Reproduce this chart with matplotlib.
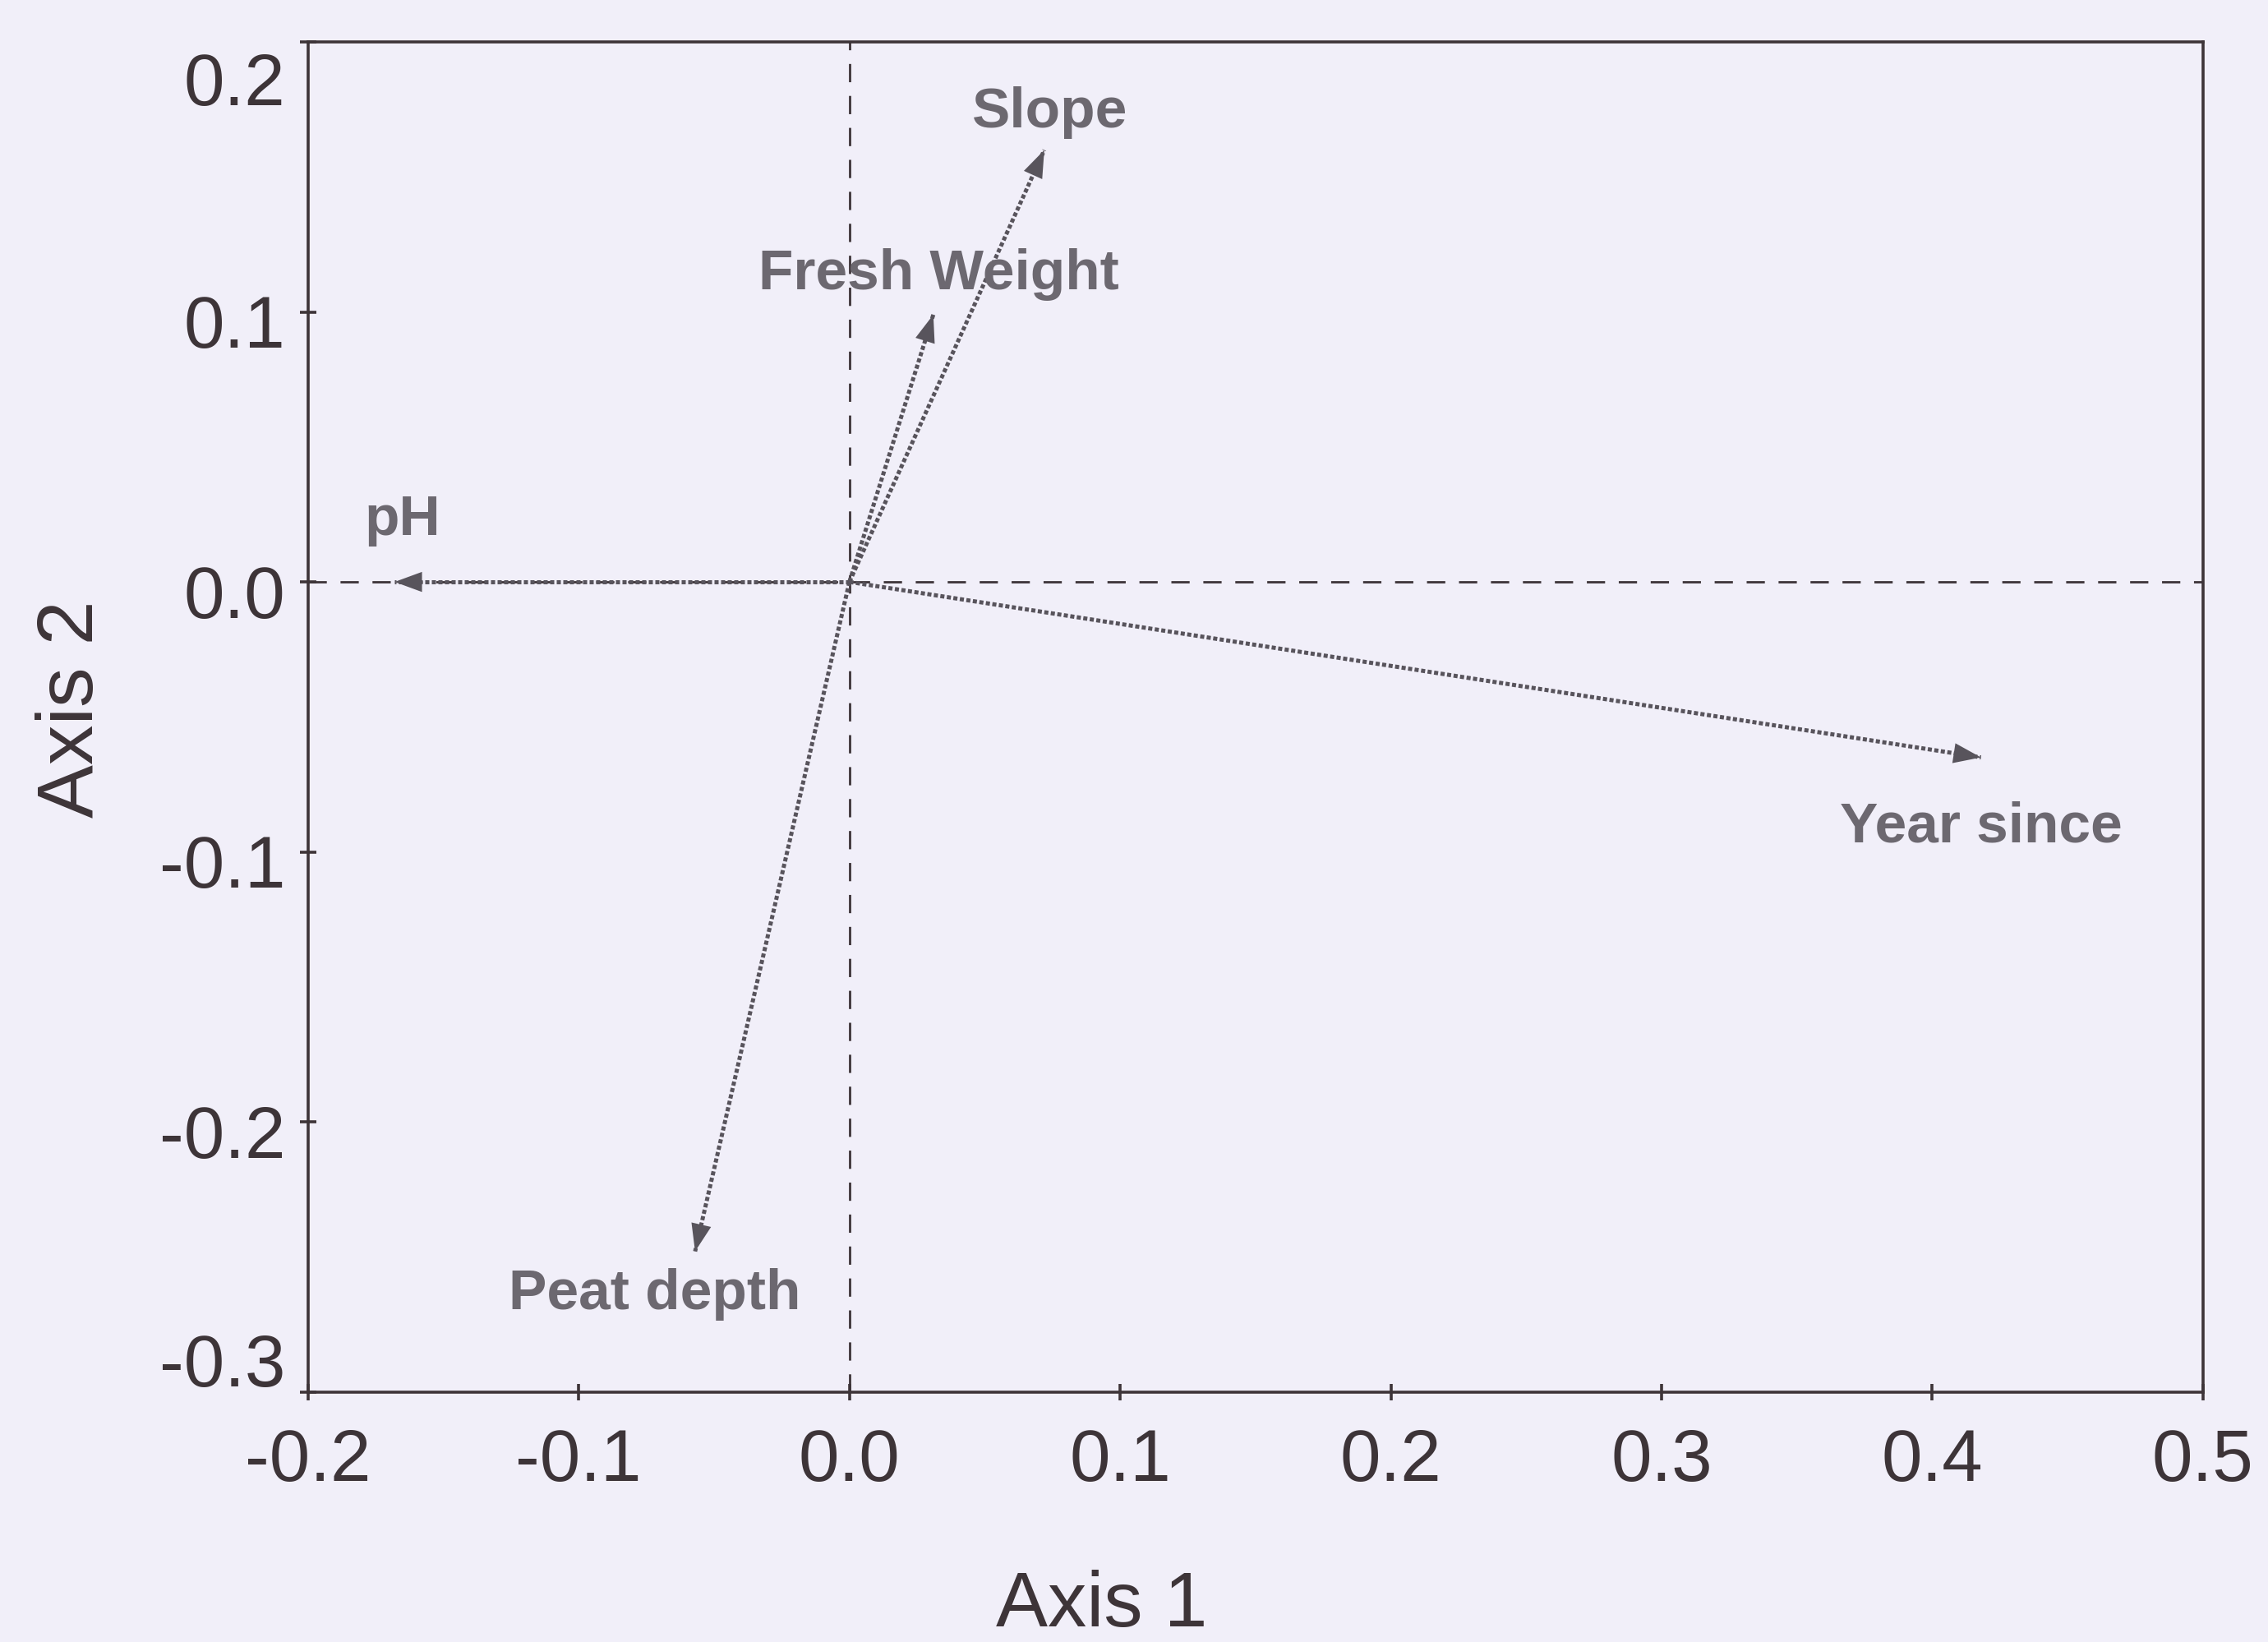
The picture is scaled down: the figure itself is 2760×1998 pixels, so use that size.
import matplotlib
matplotlib.use('Agg')
import matplotlib.pyplot as plt
from matplotlib.ticker import FormatStrFormatter
from matplotlib.transforms import ScaledTranslation

# environmental vectors (biplot scores on axes 1 and 2)
variables = ['Slope', 'Fresh Weight', 'pH', 'Year since', 'Peat depth']
axis1 = [0.072, 0.031, -0.168, 0.418, -0.057]
axis2 = [0.160, 0.099, 0.0, -0.065, -0.248]

# where each vector's name is written
label_x = [0.074, 0.033, -0.165, 0.418, -0.072]
label_y = [0.174, 0.114, 0.023, -0.091, -0.264]

xticks = [-0.2, -0.1, 0.0, 0.1, 0.2, 0.3, 0.4, 0.5]
yticks = [-0.3, -0.2, -0.1, 0.0, 0.1, 0.2]

plt.rcParams['font.family'] = ['Liberation Sans', 'DejaVu Sans']
plt.rcParams['axes.unicode_minus'] = False

bg = '#f1eff9'
dark = '#3d3438'
arrow_col = '#58545c'
text_col = '#6c6870'

fig = plt.figure(figsize=(13.8, 9.99), dpi=200, facecolor=bg)
ax = fig.add_axes([0.1358, 0.1524, 0.8355, 0.822])
ax.set_facecolor(bg)

ax.axhline(0, color=dark, lw=1.0, linestyle=(0, (8, 6)), zorder=1)
ax.axvline(0, color=dark, lw=1.0, linestyle=(0, (8, 6)), zorder=1)

for name, x, y, lx, ly in zip(variables, axis1, axis2, label_x, label_y):
    ax.plot([0, x], [0, y], color=arrow_col, lw=1.8, linestyle=(0, (1, 0.6)), zorder=2)
    ax.annotate('', xy=(x, y), xytext=(0, 0),
                arrowprops=dict(arrowstyle='-|>,head_length=0.6,head_width=0.22',
                                mutation_scale=20, lw=0, color=arrow_col,
                                shrinkA=0, shrinkB=0),
                zorder=3)
    ax.text(lx, ly, name, ha='center', va='center', fontsize=25,
            fontweight='bold', color=text_col, zorder=4)

ax.set_xlim(-0.2, 0.5)
ax.set_ylim(-0.3, 0.2)
ax.set_xticks(xticks)
ax.set_yticks(yticks)
ax.xaxis.set_major_formatter(FormatStrFormatter('%.1f'))
ax.yaxis.set_major_formatter(FormatStrFormatter('%.1f'))
ax.tick_params(direction='inout', length=7, width=1.3, colors=dark, labelsize=32)
ax.tick_params(axis='x', pad=12)
ax.tick_params(axis='y', pad=6.5)

# y labels sit a little low; the end ones are pulled inside the frame
for tick, val in zip(ax.yaxis.get_major_ticks(), yticks):
    dy = -4
    if val == yticks[-1]:
        dy = -16
    elif val == yticks[0]:
        dy = 14
    lbl = tick.label1
    lbl.set_transform(lbl.get_transform() + ScaledTranslation(0, dy / 72, fig.dpi_scale_trans))

for s in ax.spines.values():
    s.set_color(dark)
    s.set_linewidth(1.3)

ax.set_xlabel('Axis 1', fontsize=34, color=dark)
ax.set_ylabel('Axis 2', fontsize=35, color=dark)
ax.xaxis.set_label_coords(0.419, -0.132)
ax.yaxis.set_label_coords(-0.105, 0.506)

fig.savefig('out.png', dpi=200, facecolor=bg)
